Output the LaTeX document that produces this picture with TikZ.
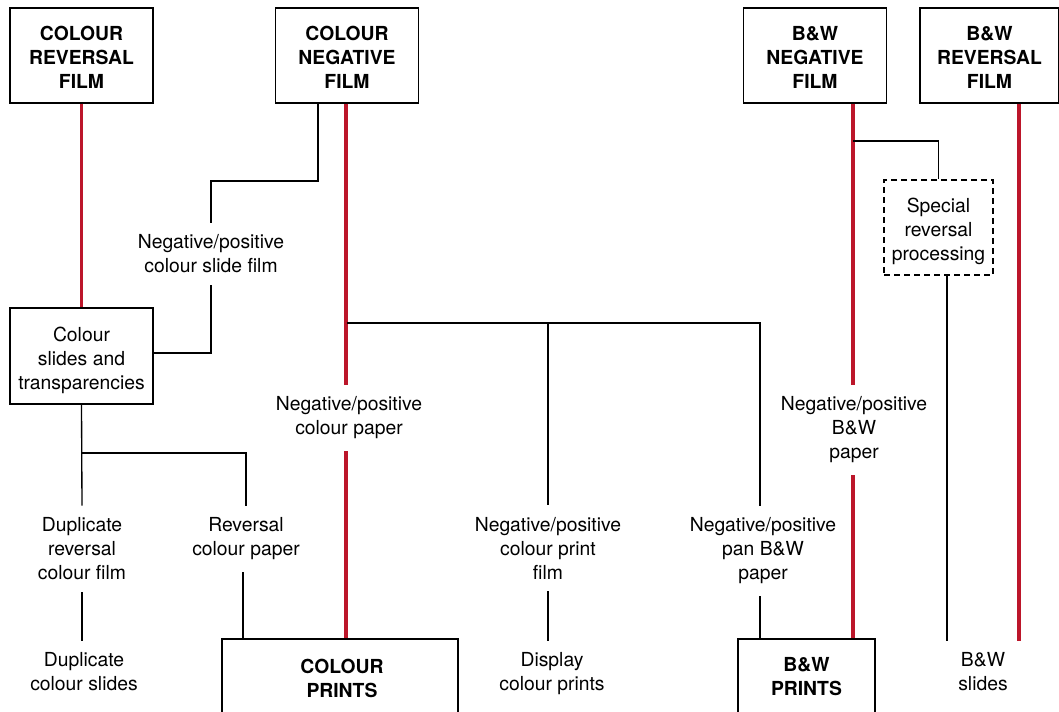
\documentclass[tikz,border=0pt]{standalone}
\usepackage{fontspec}
\setmainfont{TeX Gyre Heros}
\definecolor{filmred}{RGB}{188,22,42}
\begin{document}
\begin{tikzpicture}[x=0.75pt,y=-0.75pt,
  font=\fontsize{14.5}{18}\selectfont,
  frame/.style={draw,line width=1pt,inner sep=0pt},
  filmbox/.style={frame,minimum width=143*0.75pt,minimum height=95*0.75pt},
  boldtxt/.style={align=center,inner sep=0pt,font=\fontsize{14.5}{18}\selectfont\bfseries},
  plaintxt/.style={align=center,inner sep=0pt},
  lbl/.style={align=center,inner xsep=2pt,inner ysep=9pt},
  blk/.style={line width=1pt},
  redline/.style={line width=2.3pt,draw=filmred}]
\clip (0,0) rectangle (1059,712);
\fill[white] (0,0) rectangle (1059,712);

% film stock
\node[filmbox] (crev)  at (81.5,55.5) {};
\node[filmbox] (cneg)  at (347,55.5)  {};
\node[filmbox] (bwneg) at (815,55.5)  {};
\node[filmbox,minimum width=139*0.75pt] (bwrev) at (989.5,55.5) {};
\node[boldtxt] (crevt)  at (81.5,57.5) {COLOUR\\REVERSAL\\FILM};
\node[boldtxt] (cnegt)  at (347,57.5)  {COLOUR\\NEGATIVE\\FILM};
\node[boldtxt] (bwnegt) at (815,57.5)  {B\&W\\NEGATIVE\\FILM};
\node[boldtxt] (bwrevt) at (989.5,57.5) {B\&W\\REVERSAL\\FILM};

% intermediate stages
\node[frame,minimum width=143*0.75pt,minimum height=96*0.75pt] (cslides) at (81.5,356) {};
\node[plaintxt] (cslidest) at (81.5,360) {Colour\\slides and\\transparencies};
\node[frame,dashed,dash pattern=on 4.5pt off 3pt,minimum width=109*0.75pt,minimum height=95*0.75pt]
  (srp) at (938.5,227.5) {};
\node[plaintxt] (srpt) at (938.5,231.5) {Special\\reversal\\processing};

% final products
\node[frame,minimum width=236*0.75pt,minimum height=80*0.75pt] (cprints) at (340,679) {};
\node[boldtxt] (cprintst) at (342,678) {COLOUR\\PRINTS};
\node[frame,minimum width=137*0.75pt,minimum height=80*0.75pt] (bwprints) at (806.5,679) {};
\node[boldtxt] (bwprintst) at (806.5,677) {B\&W\\PRINTS};

% process labels
\node[lbl] (lcsf)  at (211,254)  {Negative/positive\\colour slide film};
\node[lbl] (lcp)   at (349,418)  {Negative/positive\\colour paper};
\node[lbl] (lbwp)  at (854,430)  {Negative/positive\\B\&W\\paper};
\node[lbl] (ldrcf) at (82,549)   {Duplicate\\reversal\\colour film};
\node[lbl] (lrcp)  at (246,539)  {Reversal\\colour paper};
\node[lbl] (lcpf)  at (548,548)  {Negative/positive\\colour print\\film};
\node[lbl] (lpbw)  at (763,551)  {Negative/positive\\pan B\&W\\paper};
\node[lbl] (dcs)   at (84,672)   {Duplicate\\colour slides};
\node[lbl] (dcp)   at (552,674)  {Display\\colour prints};
\node[lbl] (bwsl)  at (983,672)  {B\&W\\slides};

% junction points
\coordinate (j1) at (318,181);
\coordinate (bus) at (347,323);
\coordinate (j2) at (82,453);
\coordinate (j3) at (853,141);
\coordinate (j4) at (947,0);
\coordinate (j5) at (1019,0);
\coordinate (j6) at (0,353);
\coordinate (j7) at (243,0);
\coordinate (j8) at (760,0);
\coordinate (j9) at (346,0);

% main (red) routes
\draw[redline] (crev.south) -- (cslides.north);
\draw[redline] (cneg.south -| j9) -- (lcp.north -| j9);
\draw[redline] (lcp.south -| j9) -- (cprints.north -| j9);
\draw[redline] (bwneg.south -| j3) -- (lbwp.north -| j3);
\draw[redline] (lbwp.south -| j3) -- (bwprints.north -| j3);
\draw[redline] (bwrev.south -| j5) -- (bwsl.north -| j5);

% secondary routes
\draw[blk] (cneg.south -| j1) -- (j1) -| (lcsf.north);
\draw[blk] (lcsf.south) |- (cslides.east |- j6);
\draw[blk] (bus) -| (lcpf.north);
\draw[blk] (bus) -| (lpbw.north -| j8);
\draw[blk] (lcpf.south) -- (lcpf.south |- dcp.north);
\draw[blk] (lpbw.south -| j8) -- (bwprints.north -| j8);
\draw[blk] (cslides.south) -- (ldrcf.north);
\draw[blk] (j2) -| (lrcp.north);
\draw[blk] (ldrcf.south) -- (ldrcf.south |- dcs.north);
\draw[blk] (lrcp.south -| j7) -- (cprints.north -| j7);
\draw[blk] (j3) -| (srp.north);
\draw[blk] (srp.south -| j4) -- (bwsl.north -| j4);
\end{tikzpicture}
\end{document}
